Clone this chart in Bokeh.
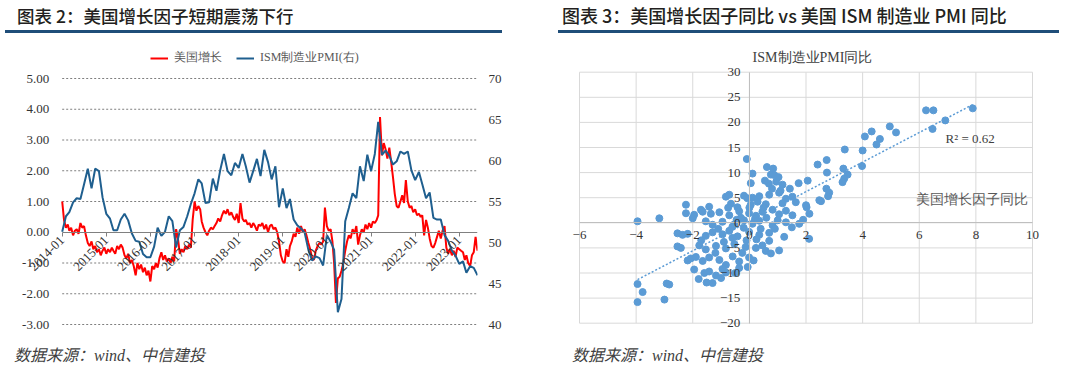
import math
import numpy as np
import pandas as pd
from bokeh.plotting import figure
from bokeh.models import (Range1d, LinearAxis, FixedTicker, DatetimeTickFormatter, NumeralTickFormatter,
                          Legend, LegendItem, Label, Div)
from bokeh.layouts import row, column
from bokeh.embed import file_html
from bokeh.resources import INLINE

# ---------------- Left chart data ----------------
# 美国增长 (semi-monthly readings: 1st and 16th of each month)
growth_2014 = [1.00, 0.40, 0.15, 0.25, 0.05, 0.15, -0.10, 0.05, 0.10, -0.05, 0.30, 0.15,
               0.20, -0.10, -0.35, -0.45, -0.30, -0.55, -0.45, -0.65, -0.55, -0.75, -0.60, -0.50]
growth_2015 = [-0.70, -0.55, -0.65, -0.50, -0.60, -0.70, -0.45, -0.55, -0.40, -0.50, -0.75, -0.85,
               -0.70, -1.00, -0.90, -1.10, -1.40, -1.00, -1.20, -1.05, -1.30, -1.15, -1.40, -1.25]
growth_2016 = [-1.60, -1.10, -1.20, -1.00, -1.15, -0.85, -0.65, -0.90, -0.75, -0.95, -0.85, -1.00,
               -0.80, -0.95, 0.10, -0.20, -0.70, -0.55, -0.65, -0.45, -0.55, -0.40, -0.50, 0.40]
growth_2017 = [1.00, 0.70, 0.85, 0.75, 0.35, 0.15, 0.00, -0.10, 0.05, 0.15, 0.10, 0.20,
               0.30, 0.45, 0.35, 0.55, 0.70, 0.60, 0.75, 0.55, 0.65, 0.50, 0.40, 0.60]
growth_2018 = [0.30, 0.95, 0.45, 0.35, 0.40, 0.25, 0.30, 0.15, 0.30, 0.20, 0.05, 0.25,
               0.20, 0.30, 0.10, 0.25, 0.00, 0.20, 0.25, 0.10, 0.15, 0.00, -0.30, -0.75]
growth_2019 = [-0.95, -1.00, -0.55, -0.80, -0.45, -0.30, -0.05, -0.15, 0.15, -0.05, 0.20, 0.00,
               0.10, -0.10, -0.35, -0.55, -0.85, -0.90, -0.60, -0.45, -0.35, -0.40, -0.30, 0.80]
growth_2020 = [0.20, 0.05, 0.10, -0.30, -1.00, -2.30, -1.50, -1.45, -1.25, -1.00, -0.60, -0.30,
               -0.10, -0.20, 0.10, -0.05, 0.20, -0.40, -0.10, 0.10, 0.00, 0.25, 0.10, 0.30]
growth_2021 = [0.15, 0.35, 0.30, 0.40, 0.55, 3.75, 2.50, 2.90, 2.70, 2.40, 2.75, 2.30,
               1.80, 1.25, 0.85, 0.80, 1.00, 1.20, 0.95, 1.70, 1.00, 0.80, 0.85, 0.65]
growth_2022 = [0.75, 0.55, 0.60, 0.50, 0.55, -0.10, 0.40, 0.15, -0.20, -0.45, -0.50, -0.35,
               -0.15, 0.05, -0.20, 0.05, 0.20, -0.50, -0.70, -0.55, -0.75, -0.60, -0.80, -0.50]
growth_2023 = [-0.55, -0.60, -0.65, -0.90, -0.75, -1.00, -1.10, -0.75, -0.65, -0.15, -0.60]

# ISM制造业PMI (monthly)
pmi_2014 = [51.3, 53.2, 53.7, 54.9, 55.4, 55.3, 57.1, 59.0, 56.6, 59.0, 58.7, 55.5]
pmi_2015 = [53.5, 52.9, 51.5, 51.5, 52.8, 53.5, 52.7, 51.1, 50.2, 50.1, 48.6, 48.2]
pmi_2016 = [48.2, 49.5, 51.8, 50.8, 51.3, 53.2, 52.6, 49.4, 51.5, 51.9, 53.2, 54.7]
pmi_2017 = [56.0, 57.7, 57.2, 54.8, 54.9, 57.8, 56.3, 58.8, 60.8, 58.7, 58.2, 59.7]
pmi_2018 = [59.1, 60.8, 59.3, 57.3, 58.7, 60.2, 58.1, 61.3, 59.8, 57.7, 59.3, 54.3]
pmi_2019 = [56.6, 54.2, 55.3, 52.8, 52.1, 51.7, 51.2, 49.1, 47.8, 48.3, 48.1, 47.2]
pmi_2020 = [50.9, 50.1, 49.1, 41.5, 43.1, 52.6, 54.2, 56.0, 55.4, 59.3, 57.5, 60.7]
pmi_2021 = [58.7, 60.8, 64.7, 60.7, 61.2, 60.6, 59.5, 59.9, 61.1, 60.8, 61.1, 58.8]
pmi_2022 = [57.6, 58.6, 57.1, 55.4, 56.1, 53.0, 52.8, 52.8, 50.9, 50.2, 49.0, 48.4]
pmi_2023 = [47.4, 47.7, 46.3, 47.1, 46.9, 46.0]

year_ticks = ["2014-01", "2015-01", "2016-01", "2017-01", "2018-01",
              "2019-01", "2020-01", "2021-01", "2022-01", "2023-01"]
left_ticks = [-3, -2, -1, 0, 1, 2, 3, 4, 5]
right_ticks = [40, 45, 50, 55, 60, 65, 70]

# ---------------- Right chart data ----------------
growth_yoy = [
    -3.95, -3.18, -3.95, -3.77, -3.95, -3.00, -2.92, -2.83,
    6.24, 6.50, 7.89, 6.92, 6.47, 4.96, 5.18, 4.32, 4.08, 4.61, 4.49, 3.37, 4.00, 2.73, 2.41, 2.74,
    3.32, 3.47, 3.35, 3.29, 3.98, 2.06, 2.72, 2.82, 2.78, 2.53, 2.02, 2.12, 2.47, 2.11,
    -0.09, 0.11, 0.05, 0.62, 0.84, 0.76, 0.88, 1.03, 0.69, 1.17, 1.43, 1.74, 0.80, 1.10, 0.55, 0.95,
    -0.83, -0.71, -0.19, -0.07, 0.11, 0.35, 0.70, 1.05, 1.29, 1.52,
    -2.24, -1.71, -1.42, -0.65, -0.42, 0.05, 0.29, 0.58, 1.17, 1.64, 2.00,
    -2.24, -1.95, -1.65, -1.36, -1.06, -0.71, -0.36, -0.01, 0.23, 0.46, 1.05, 1.29, 1.52, 0.82,
    -1.54, -1.30, -0.95, -0.53, -0.19, 0.11, 0.35, 0.82, 1.29, 1.76,
    -2.54, -2.36, -2.18, -1.54, -1.30, -0.95, -0.71, -0.42, -0.01, 0.35, 0.70, 1.23,
    -2.54, -2.42, -1.77, -1.54, -1.18, -0.83, -0.53, -0.13, 0.23, 0.46, 0.58, 0.76, 1.05,
    -2.18, -2.07, -1.89, -1.65, -1.42, -1.06, -0.83, -0.59, -0.36, -0.01,
    -1.95, -1.59, -1.42, -1.18, -0.95, -0.83, -0.50, -0.36, -0.06,
    -1.79, -1.51, -1.30, -1.00,
    -0.30, -0.20, 0.20, 0.40, -0.60, 0.00, -0.10, 0.60, 0.90, -0.90, -1.10, 0.25, 0.50,
    -0.45, 1.50, -1.70, -2.00, -0.25, 0.15, -0.60, 1.00, 0.70, -1.20, -0.75, 1.90,
]
pmi_yoy = [
    0.3, 0.9, -12.2, -13.8, -15.8, -15.3, -12.1, -12.3,
    22.4, 22.4, 22.8, 20.4, 18.7, 19.2, 18.0, 18.2, 17.2, 16.7, 15.6, 14.6, 14.4, 12.5, 11.6, 10.0,
    10.8, 9.6, 8.8, 8.1, 11.3, 8.4, 6.8, 6.0, 5.3, 4.3, 3.1, 1.8, 4.5, -3.2,
    12.7, 9.8, 7.9, 11.1, 10.8, 9.6, 9.5, 9.1, 7.8, 7.6, 6.8, 7.9, 6.8, 6.4, 8.4, 8.2,
    5.2, 5.6, 5.4, 4.9, 5.0, 5.3, 5.6, 6.0, 4.8, 5.2,
    3.6, 2.6, 3.2, 3.8, 3.1, 3.6, 4.2, 3.7, 3.9, 4.1, 3.5,
    1.9, 1.6, 2.2, 1.8, 2.1, 1.5, 2.3, 1.9, 1.4, 2.2, 1.7, 2.4, 1.5, 2.6,
    0.3, -0.4, 0.2, -0.3, 0.5, -0.2, 0.4, -0.5, 0.1, -0.2,
    -2.1, -2.4, -2.2, -2.6, -1.9, -2.3, -1.6, -2.7, -1.8, -2.4, -2.0, -2.8,
    -4.7, -5.0, -4.5, -5.3, -4.6, -5.1, -4.2, -4.8, -5.0, -4.5, -5.6, -6.1, -5.5,
    -7.5, -7.1, -6.8, -7.6, -6.9, -7.4, -8.4, -6.7, -7.7, -6.9,
    -9.3, -10.0, -9.7, -10.5, -9.2, -9.9, -10.0, -9.0, -8.8,
    -11.2, -11.9, -12.0, -11.0,
    1.0, -1.0, 0.8, -1.2, -0.8, 3.0, -3.5, 1.0, -1.2, -3.8, -1.2, -3.3, 3.0,
    0.6, -0.9, -3.5, 0.9, -6.0, -7.5, -3.0, 0.5, -3.6, -6.0, 3.0, 0.6,
]
scatter_x_ticks = [-6, -4, -2, 0, 2, 4, 6, 8, 10]
scatter_y_ticks = [-20, -15, -10, -5, 0, 5, 10, 15, 20, 25, 30]

SERIF = "Liberation Serif"
CJK = "Noto Sans CJK SC"

# ---------------- build left chart ----------------
growth = (growth_2014 + growth_2015 + growth_2016 + growth_2017 + growth_2018 +
          growth_2019 + growth_2020 + growth_2021 + growth_2022 + growth_2023)
pmi = (pmi_2014 + pmi_2015 + pmi_2016 + pmi_2017 + pmi_2018 +
       pmi_2019 + pmi_2020 + pmi_2021 + pmi_2022 + pmi_2023)

months = pd.date_range("2014-01-01", periods=len(pmi), freq="MS")
growth_dates = []
for m in months:
    growth_dates.append(m)
    growth_dates.append(m + pd.Timedelta(days=15))
growth_dates = growth_dates[:len(growth)]

t0 = pd.Timestamp("2014-01-01").value / 1e6
t1 = pd.Timestamp("2023-06-01").value / 1e6
# frame geometry (px): data span 415.3 px wide, extra room on the left for the axis labels
ms_per_px = (t1 - t0) / 415.3
x_start = t0 - 44.7 * ms_per_px
L_PX = 246 / 8.0      # px per unit of the left axis
R_PX = 246 / 30.0     # px per unit of the right axis
pad_top, pad_bot = 30, 8
FRAME_H = 284

p1 = figure(width=532, height=290, x_axis_type="datetime", output_backend="svg",
            toolbar_location=None, title=None,
            x_range=Range1d(x_start, t1),
            y_range=Range1d(-3 - pad_bot / L_PX, 5 + pad_top / L_PX),
            min_border_left=17, min_border_right=55, min_border_top=0, min_border_bottom=6)
p1.outline_line_color = None
p1.extra_y_ranges = {"pmi": Range1d(40 - pad_bot / R_PX, 70 + pad_top / R_PX)}
p1.xgrid.visible = False
p1.ygrid.visible = False

# dotted horizontal grid lines spanning the data period only
grid_levels = [t for t in left_ticks if t != 0]
p1.segment(x0=[t0] * len(grid_levels), x1=[t1] * len(grid_levels), y0=grid_levels, y1=grid_levels,
           line_color="#7f7f7f", line_dash="2 2", line_width=1)

r_red = p1.line(growth_dates, growth, line_color="#ff0000", line_width=2)
r_blue = p1.line(months, pmi, line_color="#1f5f8f", line_width=2, y_range_name="pmi")

# left axis, fixed at the start of the data
ya = p1.yaxis[0]
ya.fixed_location = t0
ya.ticker = FixedTicker(ticks=left_ticks)
ya.formatter = NumeralTickFormatter(format="0.00")
ya.axis_line_color = None
ya.major_tick_line_color = None
ya.major_tick_out = 0
ya.major_tick_in = 0
ya.minor_tick_line_color = None
ya.major_label_standoff = 13
ya.major_label_text_font = SERIF
ya.major_label_text_font_size = "13px"
ya.major_label_text_color = "#333333"

# right axis
ra = LinearAxis(y_range_name="pmi", ticker=FixedTicker(ticks=right_ticks))
ra.axis_line_color = None
ra.major_tick_line_color = None
ra.major_tick_out = 0
ra.major_tick_in = 0
ra.minor_tick_line_color = None
ra.major_label_standoff = 11
ra.major_label_text_font = SERIF
ra.major_label_text_font_size = "13px"
ra.major_label_text_color = "#333333"
p1.add_layout(ra, "right")

# x axis at y = 0
xa = p1.xaxis[0]
xa.fixed_location = 0
xa.bounds = (t0, t1)
xa.ticker = FixedTicker(ticks=[pd.Timestamp(t + "-01").value // 10**6 for t in year_ticks])
fmt = "%Y-%m"
xa.formatter = DatetimeTickFormatter(microseconds=fmt, milliseconds=fmt, seconds=fmt, minsec=fmt,
                                     minutes=fmt, hourmin=fmt, hours=fmt, days=fmt, months=fmt, years=fmt)
xa.major_label_orientation = math.pi / 4
xa.axis_line_color = "#808080"
xa.major_tick_line_color = "#808080"
xa.major_tick_in = 0
xa.major_tick_out = 4
xa.minor_tick_line_color = None
xa.major_label_standoff = 2
xa.major_label_text_font = SERIF
xa.major_label_text_font_size = "13px"
xa.major_label_text_color = "#333333"

legend = Legend(items=[LegendItem(label="美国增长", renderers=[r_red]),
                       LegendItem(label="ISM制造业PMI(右)", renderers=[r_blue])],
                location=(133, FRAME_H - 11 - 7), orientation="horizontal")
legend.padding = 0
legend.margin = 0
legend.spacing = 14
legend.label_standoff = 6
legend.glyph_width = 18
legend.glyph_height = 12
legend.label_height = 12
legend.border_line_color = None
legend.background_fill_alpha = 0
legend.label_text_font = SERIF
legend.label_text_font_size = "12px"
legend.label_text_color = "#595959"
p1.add_layout(legend)

# ---------------- build right chart ----------------
SX = 453 / 16.0   # px per unit, x
SY = 251 / 50.0   # px per unit, y
p2 = figure(width=532, height=290, output_backend="svg", toolbar_location=None, title=None,
            x_range=Range1d(-6 - 10 / SX, 10 + 10 / SX),
            y_range=Range1d(-20 - 8.3 / SY, 30 + 23.7 / SY),
            min_border_left=27, min_border_right=32, min_border_top=0, min_border_bottom=7)
p2.outline_line_color = None
p2.xgrid.visible = False
p2.ygrid.visible = False

# light grid (the outer lines form the plot border)
nx, ny = len(scatter_x_ticks), len(scatter_y_ticks)
p2.segment(x0=scatter_x_ticks, x1=scatter_x_ticks, y0=[scatter_y_ticks[0]] * nx, y1=[scatter_y_ticks[-1]] * nx,
           line_color="#d9d9d9", line_width=1)
p2.segment(x0=[scatter_x_ticks[0]] * ny, x1=[scatter_x_ticks[-1]] * ny, y0=scatter_y_ticks, y1=scatter_y_ticks,
           line_color="#d9d9d9", line_width=1)

for ax, ticks in ((p2.xaxis[0], scatter_x_ticks), (p2.yaxis[0], scatter_y_ticks)):
    ax.fixed_location = 0
    ax.bounds = (ticks[0], ticks[-1])
    ax.ticker = FixedTicker(ticks=ticks)
    ax.axis_line_color = "#bfbfbf"
    ax.major_tick_line_color = None
    ax.major_tick_out = 0
    ax.major_tick_in = 0
    ax.minor_tick_line_color = None
    ax.major_label_text_font = SERIF
    ax.major_label_text_font_size = "13px"
    ax.major_label_text_color = "#333333"
p2.xaxis[0].major_label_standoff = 8
p2.yaxis[0].major_label_standoff = 9

gx = np.array(growth_yoy)
gy = np.array(pmi_yoy)
p2.scatter(gx, gy, size=7, fill_color="#5b9bd5", line_color="#5b9bd5")
slope, intercept = np.polyfit(gx, gy, 1)
tx = np.array([gx.min(), gx.max()])
p2.line(tx, slope * tx + intercept, line_color="#5b9bd5", line_width=1.5, line_dash="2 2")

p2.add_layout(Label(x=2.23, y=32.9, text="ISM制造业PMI同比", text_align="center", text_baseline="middle",
                    text_font=SERIF, text_font_size="14px", text_color="#404040"))
p2.add_layout(Label(x=9.83, y=4.7, text="美国增长因子同比", text_align="right", text_baseline="middle",
                    text_font=SERIF, text_font_size="14px", text_color="#595959"))
p2.add_layout(Label(x=6.93, y=16.8, text="R² = 0.62", text_align="left", text_baseline="middle",
                    text_font=SERIF, text_font_size="13px", text_color="#404040"))

# ---------------- titles & footers ----------------
def title_div(text, margin_left, pad_left, width, size):
    html = ("<div style=\"box-sizing:border-box;margin-left:%dpx;width:%dpx;height:28px;padding-left:%dpx;"
            "border-bottom:3px solid #1f4e79;font-family:'%s',sans-serif;font-size:%spx;font-weight:500;"
            "line-height:21px;color:#231f20;white-space:nowrap;\">%s</div>") % (margin_left, width, pad_left, CJK, size, text)
    return Div(text=html, width=532, height=38)

def foot_div(text, pad_left):
    html = ("<div style=\"padding-left:%dpx;padding-top:3px;font-family:'%s','%s',serif;font-style:italic;"
            "font-size:16px;line-height:20px;color:#404040;white-space:nowrap;\">%s</div>") % (pad_left, SERIF, CJK, text)
    return Div(text=html, width=532, height=29)

left = column(title_div("图表 2：美国增长因子短期震荡下行", 0, 12, 497, 17.5), p1,
              foot_div("数据来源：wind、中信建投", 9))
right = column(title_div("图表 3：美国增长因子同比 vs 美国 ISM 制造业 PMI 同比", 11, 4, 501, 18), p2,
               foot_div("数据来源：wind、中信建投", 25))
layout = row(left, right)

open("out.html", "w").write(file_html(layout, INLINE))
